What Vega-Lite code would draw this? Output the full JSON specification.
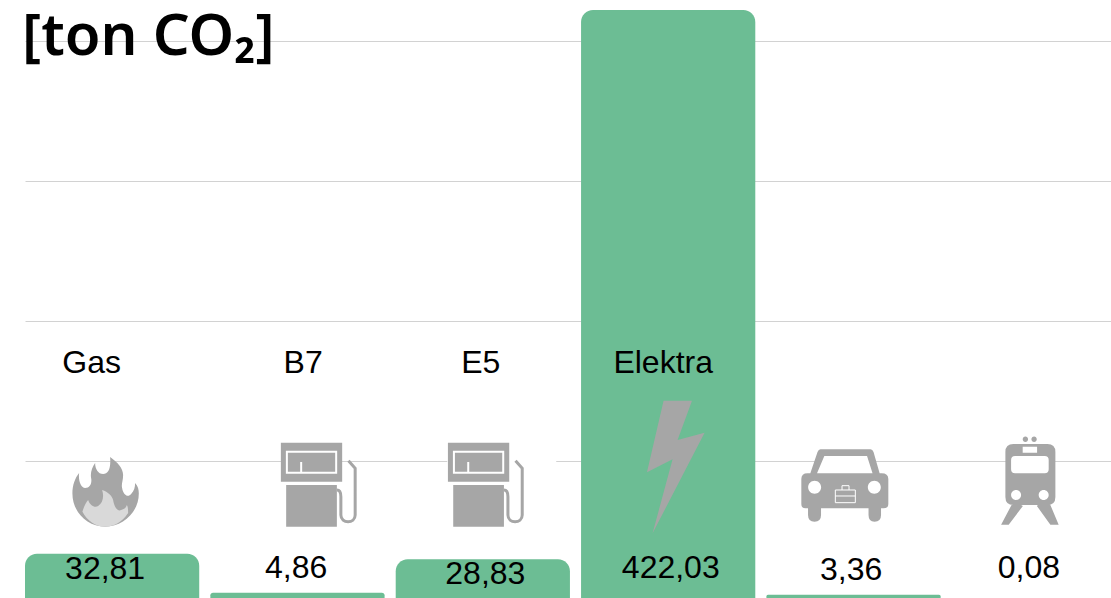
{"$schema":"https://vega.github.io/schema/vega-lite/v6.json","width":1086,"height":598,"autosize":"none","padding":{"left":25,"top":0,"right":0,"bottom":0},"background":"white","config":{"view":{"stroke":null}},"datasets":{"heading":[{"text":"[ton CO₂]"}],"main":[{"cat":"Gas","value":32.81,"label":"32,81"},{"cat":"B7","value":4.86,"label":"4,86"},{"cat":"E5","value":28.83,"label":"28,83"},{"cat":"Elektra","value":422.03,"label":"422,03"},{"cat":"Auto","value":3.36,"label":"3,36"},{"cat":"Trein","value":0.08,"label":"0,08"}],"icons":[{"cat":"Gas","part":"flame","kind":"fill"},{"cat":"Gas","part":"flameInner","kind":"fill"},{"cat":"B7","part":"pump","kind":"fill"},{"cat":"E5","part":"mask","kind":"fill"},{"cat":"E5","part":"pumpE5","kind":"fill"},{"cat":"Elektra","part":"bolt","kind":"fill"},{"cat":"Auto","part":"car","kind":"fill"},{"cat":"Auto","part":"carWhite","kind":"fill"},{"cat":"Trein","part":"train","kind":"fill"},{"cat":"Trein","part":"trainWhite","kind":"fill"},{"cat":"B7","part":"hose","kind":"s3"},{"cat":"E5","part":"hoseE5","kind":"s3"},{"cat":"B7","part":"display","kind":"s2"},{"cat":"E5","part":"displayE5","kind":"s2"},{"cat":"Auto","part":"brief","kind":"s1"}]},"encoding":{"x":{"field":"cat","type":"nominal","axis":null,"sort":null,"scale":{"domain":["Gas","B7","E5","Elektra","Auto","Trein"],"range":[0,1101],"paddingInner":0.06,"paddingOuter":0}}},"layer":[{"data":{"name":"main"},"mark":{"type":"bar","color":"#6cbd94","cornerRadiusEnd":12,"clip":true},"encoding":{"y":{"field":"value","type":"quantitative","stack":null,"scale":{"domain":[1.07,429.1],"nice":false,"zero":false},"axis":{"values":[99.1,199.4,299.6,399.8],"grid":true,"gridColor":"#d2d2d2","gridWidth":1,"domain":false,"ticks":false,"labels":false,"title":null,"zindex":0}}}},{"data":{"name":"icons"},"encoding":{"y":{"datum":94.13,"type":"quantitative"},"shape":{"field":"part","type":"nominal","legend":null,"scale":{"domain":["flame","flameInner","pump","mask","pumpE5","bolt","car","carWhite","train","trainWhite","hose","hoseE5","display","displayE5","brief"],"range":["M-7 58.7C-25 58.7 -39.7 44 -39.7 25.5C-39.7 17 -37 10 -33 5C-34 13 -31 20 -27 20C-22 20 -20 15 -21 10C-22 5 -20 -1 -17 -5C-17 1 -14 6 -9 6C-4 6 -1 1 -2 -11C5 -6 11 0 11 7C11 13 9 16 10 20C11 27 16 30 19 26C22 23 23 19 23 15C26 18 26.7 22 26.7 25.5C26.7 44 11 58.7 -7 58.7Z","M-29.7 43.7C-28 38 -26 34 -24 32C-22 38 -17 40 -14 38C-9 35 -8 28 -10 22C-4 24 0 28 1 32C2 38 5 44 9 42C13 41 14 39 14.7 37C16 39 16 42 16 45C10 54 2 58.7 -7 58.7C-16 58.7 -25 53 -29.7 43.7Z","M-16.6 -25.3h61.3v39h-61.3zM-11.3 17h50.7v41.7h-50.7z","M-35.6 -12L73.4 -12L73.4 -2L-35.6 -2Z","M-34.9 -25.3h61.3v39h-61.3zM-29.6 17h50.7v41.7h-50.7z","M-4.6 -67.3L23.8 -67.3L9.4 -28L36.4 -35.3L-15.6 65.3L4.4 -8.7L-21.2 4.3Z","M-33 -18.7L17 -18.7Q19 -18.7 20 -16L26.1 5.3L28 5.3Q34.8 5.3 34.8 11L34.8 36Q34.8 40.3 30 40.3L27.5 40.3L27.5 47Q27.5 53.7 21 53.7Q15 53.7 15 47L15 40.3L-32.5 40.3L-32.5 47Q-32.5 53.7 -39 53.7Q-45.5 53.7 -45.5 47L-45.5 40.3L-48 40.3Q-52.2 40.3 -52.2 36L-52.2 11Q-52.2 5.3 -46 5.3L-43.2 5.3L-36 -16Q-35 -18.7 -33 -18.7Z","M-29.2 -12L13.5 -12L19 5.3L-36.5 5.3ZM-45.4 19.3A6.5 6.5 0 1 0 -32.4 19.3A6.5 6.5 0 1 0 -45.4 19.3ZM14.3 19.3A6.5 6.5 0 1 0 27.3 19.3A6.5 6.5 0 1 0 14.3 19.3Z","M-25.5 -24L8.5 -24Q16.5 -24 16.5 -16L16.5 29Q16.5 37 8.5 37L-25.5 37Q-33.5 37 -33.5 29L-33.5 -16Q-33.5 -24 -25.5 -24ZM-16.2 -28.7A2.7 2.7 0 1 0 -10.8 -28.7A2.7 2.7 0 1 0 -16.2 -28.7ZM-7.5 -28.7A2.7 2.7 0 1 0 -2.1 -28.7A2.7 2.7 0 1 0 -7.5 -28.7ZM-25.2 33L-16 38L-30.2 56.7L-37.8 56.7ZM3.2 33L9.8 33L19.8 56.7L11.5 56.7L-2 38Z","M-23.8 -12L5.8 -12Q9.8 -12 9.8 -8L9.8 1.3Q9.8 5.3 5.8 5.3L-23.8 5.3Q-27.8 5.3 -27.8 1.3L-27.8 -8Q-27.8 -12 -23.8 -12ZM-16.2 -21.3L-1.8 -21.3L-1.8 -15.3L-16.2 -15.3ZM-27.8 27A5 5 0 1 0 -17.8 27A5 5 0 1 0 -27.8 27ZM-0.2 27A5 5 0 1 0 9.8 27A5 5 0 1 0 -0.2 27Z","M51 -7.3l6.7 7.6v46.7c0 9 -14.3 9 -14.3 0v-18.3c0 -4.7 -1.4 -6.7 -4 -6.7","M32.7 -7.3l6.7 7.6v46.7c0 9 -14.3 9 -14.3 0v-18.3c0 -4.7 -1.4 -6.7 -4 -6.7","M-10.6 -16.3H38.7V4.7H-10.6ZM3.7 -6V4","M-28.9 -16.3h49.3v21h-49.3zM-14.6 -6v10","M-18.2 22H1.8V34.7H-18.2ZM-11.5 22V17.7H-4.5V22M-18.2 28H1.8"]}},"color":{"field":"part","type":"nominal","legend":null,"scale":{"domain":["flame","flameInner","pump","mask","pumpE5","bolt","car","carWhite","train","trainWhite","hose","hoseE5","display","displayE5","brief"],"range":["#a6a6a6","#d9d9d9","#a6a6a6","#ffffff","#a6a6a6","#a6a6a6","#a6a6a6","#ffffff","#a6a6a6","#ffffff","#a6a6a6","#a6a6a6","#ffffff","#ffffff","#ffffff"]}}},"layer":[{"transform":[{"filter":"datum.kind === 'fill'"}],"mark":{"type":"point","filled":true,"size":4,"opacity":1,"strokeWidth":0}},{"transform":[{"filter":"datum.kind === 's3'"}],"mark":{"type":"point","filled":false,"size":4,"opacity":1,"strokeWidth":3}},{"transform":[{"filter":"datum.kind === 's2'"}],"mark":{"type":"point","filled":false,"size":4,"opacity":1,"strokeWidth":2}},{"transform":[{"filter":"datum.kind === 's1'"}],"mark":{"type":"point","filled":false,"size":4,"opacity":1,"strokeWidth":1}}]},{"data":{"name":"main"},"transform":[{"filter":"datum.value > 4.9 || datum.cat === 'B7'"}],"mark":{"type":"text","font":"Liberation Sans","fontSize":32,"color":"#000000","baseline":"middle","align":"center","dx":{"expr":"{'Gas':-20.5,'B7':5.7,'E5':-2,'Elektra':-5}[datum.cat]"}},"encoding":{"y":{"datum":169.3,"type":"quantitative"},"text":{"field":"cat"}}},{"data":{"name":"main"},"mark":{"type":"text","font":"Liberation Sans","fontSize":32,"color":"#000000","baseline":"middle","align":"center","dx":{"expr":"{'Gas':-7,'B7':-1.3,'E5':2.5,'Elektra':2.6,'Auto':-2.4,'Trein':-10}[datum.cat]"},"dy":{"expr":"{'Gas':0,'B7':-1,'E5':5,'Elektra':-1,'Auto':1,'Trein':-1}[datum.cat]"}},"encoding":{"y":{"datum":22,"type":"quantitative"},"text":{"field":"label"}}},{"data":{"name":"heading"},"mark":{"type":"text","font":"Noto Sans","fontSize":58,"fontWeight":600,"color":"#000000","baseline":"alphabetic","align":"left","dx":-90},"encoding":{"x":{"datum":"Gas"},"y":{"datum":390,"type":"quantitative"},"text":{"field":"text"}}}]}
